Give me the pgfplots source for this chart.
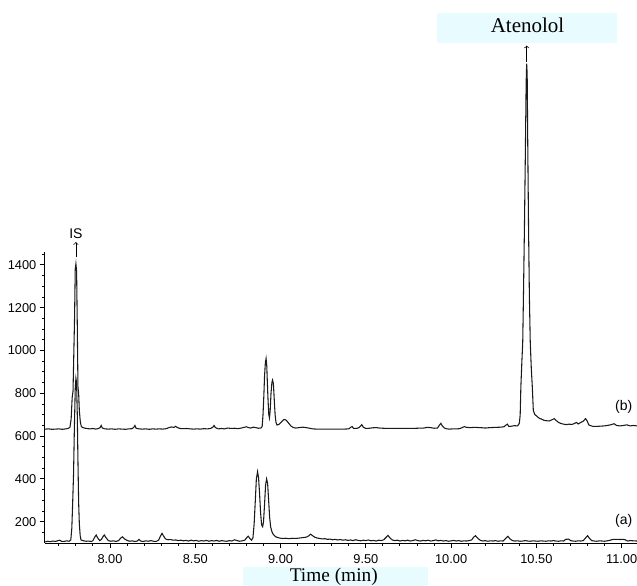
\documentclass[border=0pt]{standalone}
\usepackage{pgfplots}
\pgfplotsset{compat=1.18}
\usepackage{fontspec}
\setmainfont{Liberation Serif}
\newfontfamily\sansf{Liberation Sans}
\definecolor{boxcyan}{RGB}{232,252,255}
\definecolor{trace}{RGB}{25,25,25}

\pgfplotstableread{
t v
7.620 106
7.635 109
7.650 107
7.665 110
7.680 108
7.695 112
7.705 114
7.715 109
7.730 108
7.745 111
7.760 109
7.770 115
7.776 170
7.781 290
7.786 420
7.791 640
7.796 820
7.800 870
7.804 850
7.808 700
7.812 480
7.816 290
7.820 190
7.825 135
7.830 115
7.845 111
7.860 109
7.875 110
7.890 108
7.900 112
7.910 128
7.919 138
7.928 124
7.940 112
7.950 118
7.960 132
7.967 138
7.976 126
7.990 112
8.005 109
8.020 111
8.035 108
8.050 112
8.063 124
8.073 130
8.085 120
8.100 113
8.115 109
8.130 111
8.145 108
8.160 110
8.170 118
8.180 110
8.195 108
8.210 111
8.225 109
8.240 112
8.255 109
8.270 108
8.285 114
8.295 132
8.305 146
8.315 132
8.325 120
8.340 116
8.355 117
8.370 114
8.385 115
8.400 112
8.415 114
8.430 111
8.445 113
8.460 110
8.475 114
8.490 111
8.505 113
8.520 109
8.535 112
8.550 110
8.565 113
8.580 109
8.595 112
8.610 110
8.625 113
8.640 109
8.655 112
8.670 110
8.685 109
8.700 112
8.715 110
8.730 116
8.745 112
8.760 109
8.775 111
8.790 114
8.800 124
8.810 133
8.820 122
8.830 114
8.838 125
8.845 190
8.852 300
8.858 400
8.865 434
8.871 405
8.877 330
8.883 240
8.889 185
8.895 177
8.900 200
8.906 280
8.912 370
8.918 400
8.924 380
8.930 300
8.936 220
8.942 175
8.950 152
8.958 140
8.968 132
8.980 127
8.995 124
9.010 122
9.030 123
9.050 121
9.070 123
9.090 122
9.110 124
9.130 126
9.150 128
9.165 134
9.176 142
9.186 136
9.200 128
9.215 124
9.230 122
9.245 120
9.260 121
9.275 118
9.290 119
9.305 116
9.320 118
9.335 115
9.350 117
9.365 114
9.380 116
9.395 113
9.410 115
9.425 112
9.440 116
9.455 113
9.470 111
9.485 114
9.500 112
9.515 115
9.530 111
9.545 113
9.560 110
9.575 114
9.590 112
9.605 116
9.620 128
9.630 136
9.640 126
9.655 115
9.670 112
9.685 114
9.700 110
9.715 113
9.730 111
9.745 114
9.760 110
9.775 112
9.790 116
9.805 112
9.820 110
9.835 113
9.850 111
9.865 114
9.880 110
9.895 112
9.910 115
9.925 111
9.940 113
9.955 110
9.970 112
9.985 109
10.000 111
10.015 113
10.030 110
10.045 112
10.060 109
10.075 111
10.090 110
10.105 112
10.120 115
10.132 128
10.143 135
10.155 124
10.170 114
10.185 110
10.200 112
10.215 109
10.230 111
10.245 110
10.260 112
10.275 109
10.290 111
10.305 110
10.320 122
10.333 132
10.345 120
10.360 112
10.375 110
10.390 111
10.405 109
10.420 110
10.435 112
10.450 110
10.465 109
10.480 111
10.495 110
10.510 109
10.525 111
10.540 110
10.555 109
10.570 111
10.585 110
10.600 112
10.615 110
10.630 109
10.645 111
10.660 110
10.672 118
10.690 119
10.700 112
10.715 110
10.730 109
10.745 111
10.760 110
10.775 112
10.790 126
10.800 135
10.810 124
10.825 112
10.840 110
10.855 109
10.870 111
10.885 110
10.900 109
10.915 111
10.930 113
10.945 117
10.960 118
10.975 118
10.990 117
11.005 118
11.020 116
11.035 110
11.050 112
11.070 111
11.090 110
}\traceA

\pgfplotstableread{
t v
7.620 633
7.640 634
7.660 632
7.680 633
7.700 634
7.720 632
7.740 634
7.755 636
7.765 642
7.772 680
7.778 780
7.783 810
7.788 1000
7.792 1150
7.796 1380
7.800 1405
7.804 1370
7.808 1120
7.812 830
7.816 800
7.820 720
7.826 665
7.832 645
7.840 640
7.855 637
7.870 635
7.885 634
7.900 636
7.915 633
7.930 635
7.942 640
7.948 650
7.955 638
7.970 634
7.990 633
8.010 634
8.030 632
8.050 634
8.070 633
8.090 632
8.110 634
8.130 635
8.140 642
8.146 650
8.153 637
8.170 634
8.190 633
8.210 634
8.230 632
8.250 634
8.270 633
8.290 634
8.310 633
8.330 635
8.345 640
8.360 643
8.375 641
8.385 646
8.395 640
8.410 636
8.430 635
8.450 636
8.470 634
8.490 633
8.510 634
8.530 633
8.550 635
8.570 634
8.590 636
8.603 642
8.610 650
8.618 640
8.635 634
8.655 636
8.670 634
8.690 638
8.710 636
8.730 637
8.750 635
8.770 638
8.790 642
8.800 644
8.810 640
8.825 638
8.840 642
8.855 640
8.870 637
8.885 638
8.892 645
8.897 700
8.902 790
8.906 880
8.911 945
8.915 963
8.919 930
8.923 840
8.927 760
8.931 700
8.935 685
8.939 720
8.944 800
8.949 850
8.953 862
8.958 845
8.963 770
8.968 700
8.973 665
8.979 652
8.990 655
9.000 662
9.010 670
9.020 678
9.030 676
9.040 668
9.050 658
9.060 648
9.075 640
9.090 638
9.110 640
9.130 642
9.150 640
9.170 637
9.190 634
9.210 633
9.250 633
9.290 633
9.330 633
9.370 633
9.400 634
9.412 642
9.420 645
9.428 636
9.445 636
9.460 640
9.470 648
9.476 654
9.485 642
9.500 636
9.520 637
9.540 639
9.560 640
9.580 638
9.600 637
9.640 636
9.680 636
9.720 636
9.760 636
9.800 637
9.840 638
9.860 641
9.880 640
9.900 637
9.920 638
9.932 652
9.940 660
9.948 648
9.960 638
9.975 634
9.990 633
10.010 634
10.030 634
10.050 635
10.065 640
10.078 645
10.090 641
10.110 640
10.140 641
10.170 640
10.200 638
10.230 640
10.260 641
10.290 642
10.310 644
10.322 652
10.330 656
10.338 646
10.350 646
10.370 649
10.390 648
10.400 660
10.405 700
10.409 831
10.415 950
10.420 1041
10.425 1300
10.430 1578
10.435 1900
10.440 2250
10.443 2340
10.446 2290
10.449 2000
10.454 1578
10.459 1250
10.464 1041
10.470 920
10.476 831
10.482 720
10.490 702
10.500 695
10.510 688
10.520 682
10.530 680
10.545 674
10.560 672
10.575 671
10.590 676
10.605 682
10.615 674
10.630 664
10.645 659
10.660 656
10.675 654
10.690 656
10.710 655
10.725 660
10.735 664
10.745 657
10.760 664
10.775 670
10.788 682
10.797 672
10.808 652
10.830 646
10.860 646
10.900 648
10.930 652
10.956 658
10.970 650
10.990 648
11.010 650
11.030 653
11.050 648
11.070 650
11.090 648
}\traceB

\begin{document}
\begin{tikzpicture}
\begin{axis}[
  scale only axis,
  width=444pt, height=218.5pt,
  xmin=7.6187, xmax=11.09,
  ymin=100.5, ymax=1461.7,
  clip=false,
  axis x line=bottom, axis y line=left,
  axis line style={-, line width=0.75pt},
  tick align=outside,
  major tick length=4pt, minor tick length=2.2pt,
  tick style={line width=0.75pt, black},
  xtick={8,8.5,9,9.5,10,10.5,11},
  minor xtick={7.7,7.8,7.9,8.1,8.2,8.3,8.4,8.6,8.7,8.8,8.9,9.1,9.2,9.3,9.4,9.6,9.7,9.8,9.9,10.1,10.2,10.3,10.4,10.6,10.7,10.8,10.9},
  ytick={200,400,600,800,1000,1200,1400},
  minor ytick={150,250,300,350,450,500,550,650,700,750,850,900,950,1050,1100,1150,1250,1300,1350,1450},
  xticklabel style={/pgf/number format/fixed, /pgf/number format/fixed zerofill, /pgf/number format/precision=2},
  yticklabel style={/pgf/number format/1000 sep={}},
  /pgf/number format/assume math mode=true,
  tick label style={font={\fontsize{9.6}{11}\sansf}},
  xticklabel style={inner sep=0.5pt, yshift=-3.6pt},
  yticklabel style={xshift=1pt},
]
\coordinate (O) at (rel axis cs:0,0);
\coordinate (T) at (rel axis cs:1,1);
\addplot[trace, line width=0.8pt] table[x=t,y=v] {\traceA};
\addplot[trace, line width=0.8pt] table[x=t,y=v] {\traceB};
% labels
\node[font={\fontsize{10.5}{12}\sansf}, anchor=east] at (axis cs:11.09,736) {(b)};
\node[font={\fontsize{10.5}{12}\sansf}, anchor=east] at (axis cs:11.09,203) {(a)};
\node[font={\fontsize{10.5}{12}\sansf}, inner sep=0pt] at (axis cs:7.800,1545) {IS};
\draw[->, line width=0.5pt] (axis cs:7.800,1437) -- (axis cs:7.800,1507);
% Atenolol
\fill[boxcyan] (axis cs:9.917,2577) rectangle (axis cs:10.973,2437);
\node[font={\fontsize{15.75}{18}\selectfont}, anchor=base, inner sep=0pt] at (axis cs:10.448,2487) {Atenolol};
\draw[->, line width=0.5pt] (axis cs:10.443,2348) -- (axis cs:10.443,2425);
% Time (min)
\fill[boxcyan] (axis cs:8.779,-11.7) rectangle (axis cs:9.864,-140);
\node[font={\fontsize{14.5}{17}\selectfont}, anchor=base, inner sep=0pt] at (axis cs:9.312,-77.5) {Time (min)};
\end{axis}
\pgfresetboundingbox
\path ([xshift=-33.75pt,yshift=-31.5pt]O) rectangle ([yshift=188.8pt]T);
\end{tikzpicture}
\end{document}
